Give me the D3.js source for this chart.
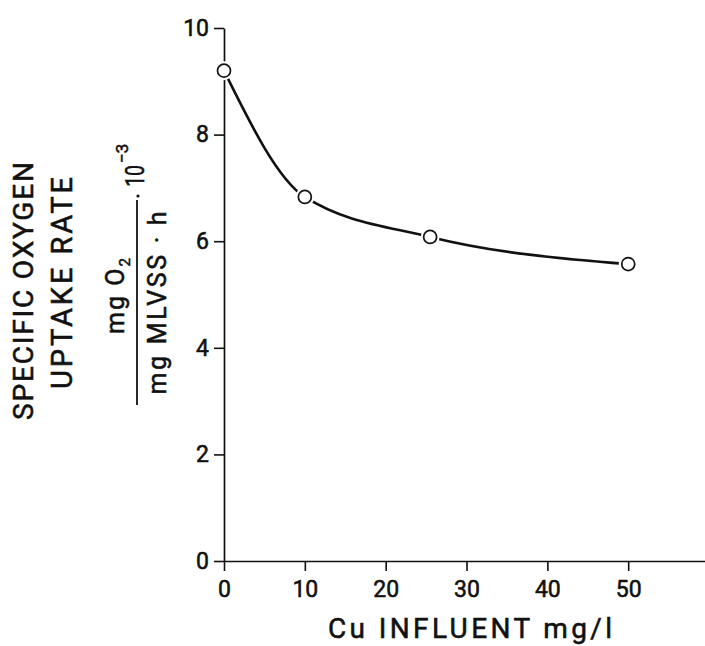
<!DOCTYPE html>
<html>
<head>
<meta charset="utf-8">
<script src="https://cdn.jsdelivr.net/npm/d3@7"></script>
<style>
  html, body { margin: 0; padding: 0; background: #fff; }
  svg { display: block; }
  text { font-family: Roboto, "DejaVu Sans", sans-serif; fill: #111; stroke: #111; stroke-width: 0.55px; }
</style>
</head>
<body>
<div id="chart"></div>
<script>
// ---- data ----
const cuInfluent = [0, 10, 25.5, 50];
const uptakeRate = [9.2, 6.83, 6.08, 5.57];
const xTicks = [0, 10, 20, 30, 40, 50];
const yTicks = [0, 2, 4, 6, 8, 10];
const xTitle = "Cu INFLUENT mg/l";
const yTitle1 = "SPECIFIC OXYGEN";
const yTitle2 = "UPTAKE RATE";
const numerator = ["mg O", "2"];
const denominator = "mg MLVSS \u00B7 h";
const factor = ["10", "\u22123"];

const W = 705, H = 646;
const svg = d3.select("#chart").append("svg").attr("width", W).attr("height", H);

const x = d3.scaleLinear().domain([0, 59.5]).range([224, 705]);
const y = d3.scaleLinear().domain([0, 10]).range([561, 28]);

const ink = "#111";

// axes
const gx = svg.append("g").attr("transform", `translate(0,${y(0)})`)
  .call(d3.axisBottom(x).tickValues(xTicks).tickSize(10).tickSizeOuter(0).tickPadding(10));
const gy = svg.append("g").attr("transform", `translate(${x(0)},0)`)
  .call(d3.axisLeft(y).tickValues(yTicks).tickSize(10).tickSizeOuter(0).tickPadding(5));
[gx, gy].forEach(g => {
  g.selectAll("path.domain").attr("stroke", ink).attr("stroke-width", 1.7);
  g.selectAll(".tick line").attr("stroke", ink).attr("stroke-width", 1.6);
  g.selectAll(".tick text").attr("font-size", 23).attr("fill", ink)
    .style("font-family", "Roboto, 'DejaVu Sans', sans-serif");
});

// curve
const pts = cuInfluent.map((v, i) => [v, uptakeRate[i]]);
svg.append("path")
  .datum(pts)
  .attr("fill", "none")
  .attr("stroke", ink)
  .attr("stroke-width", 2.6)
  .attr("d", d3.line().x(d => x(d[0])).y(d => y(d[1])).curve(d3.curveMonotoneX));

// markers with white halo
svg.append("g").selectAll("circle.halo").data(pts).join("circle")
  .attr("cx", d => x(d[0])).attr("cy", d => y(d[1])).attr("r", 9.5).attr("fill", "#fff");
svg.append("g").selectAll("circle.pt").data(pts).join("circle")
  .attr("cx", d => x(d[0])).attr("cy", d => y(d[1])).attr("r", 6.5)
  .attr("fill", "#fff").attr("stroke", ink).attr("stroke-width", 1.7);

// x title
svg.append("text")
  .attr("x", 470).attr("y", 638)
  .attr("text-anchor", "middle")
  .attr("font-size", 28)
  .attr("textLength", 284).attr("lengthAdjust", "spacing")
  .text(xTitle);

// y titles (rotated)
svg.append("text")
  .attr("transform", "translate(33,291) rotate(-90)")
  .attr("text-anchor", "middle").attr("font-size", 28)
  .attr("textLength", 258).attr("lengthAdjust", "spacing")
  .text(yTitle1);
svg.append("text")
  .attr("transform", "translate(72,283) rotate(-90)")
  .attr("text-anchor", "middle").attr("font-size", 29)
  .attr("textLength", 212).attr("lengthAdjust", "spacing")
  .text(yTitle2);

// numerator
const num = svg.append("text")
  .attr("transform", "translate(124,296) rotate(-90)")
  .attr("text-anchor", "middle").attr("font-size", 25);
num.append("tspan").text(numerator[0]).attr("letter-spacing", 2);
num.append("tspan").text(numerator[1]).attr("font-size", 15).attr("dy", 6);

// fraction bar
svg.append("line").attr("x1", 137).attr("x2", 137).attr("y1", 200).attr("y2", 405)
  .attr("stroke", ink).attr("stroke-width", 1.8);

// denominator
svg.append("text")
  .attr("transform", "translate(166,303) rotate(-90)")
  .attr("text-anchor", "middle").attr("font-size", 25)
  .attr("textLength", 183).attr("lengthAdjust", "spacing")
  .text(denominator);

// multiplier  ·10^-3
svg.append("circle").attr("cx", 138).attr("cy", 196).attr("r", 1.6).attr("fill", ink);
svg.append("text")
  .attr("transform", "translate(144,187) rotate(-90)")
  .attr("text-anchor", "start").attr("font-size", 26)
  .attr("textLength", 22).attr("lengthAdjust", "spacingAndGlyphs")
  .text(factor[0]);
svg.append("text")
  .attr("transform", "translate(128,163) rotate(-90)")
  .attr("text-anchor", "start").attr("font-size", 17)
  .text(factor[1]);
</script>
</body>
</html>
